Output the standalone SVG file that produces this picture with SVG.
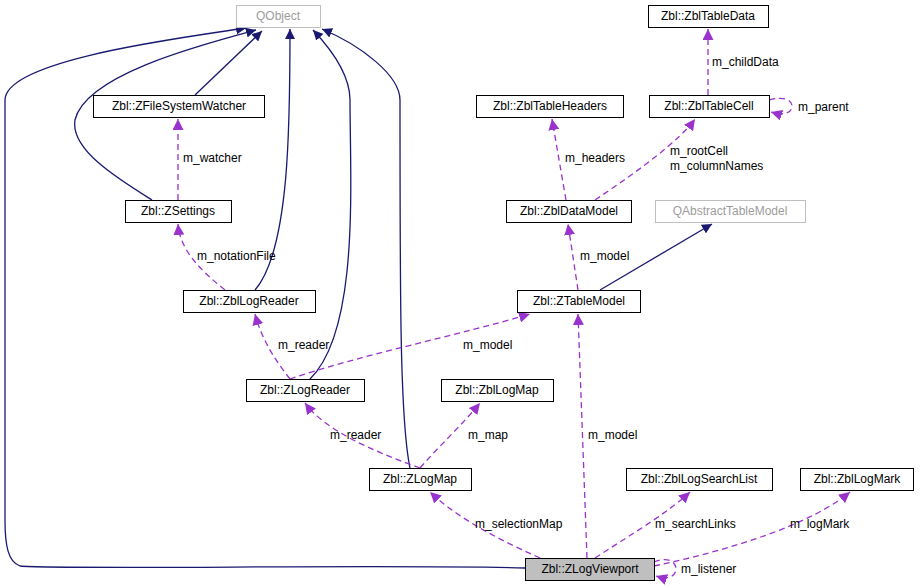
<svg xmlns="http://www.w3.org/2000/svg" width="922" height="588" viewBox="0 0 922 588">
<style>
.n rect{fill:#fff;stroke:#000;stroke-width:1}
.g rect{fill:#fff;stroke:#bfbfbf}
.n text,.g text,.l{font-family:"Liberation Sans",Arial,sans-serif;font-size:12px}
.n text,.g text{text-anchor:middle}
.g text{fill:#9c9c9c}
.i{fill:none;stroke:#191970;stroke-width:1.3}
.u{fill:none;stroke:#9a32cd;stroke-width:1.3;stroke-dasharray:6,4}
</style>
<defs>
<marker id="ai" viewBox="0 0 10 10" refX="10" refY="5" markerWidth="10" markerHeight="10" markerUnits="userSpaceOnUse" orient="auto"><path d="M0,0L10,5L0,10z" fill="#191970"/></marker>
<marker id="au" viewBox="0 0 10 10" refX="10" refY="5" markerWidth="11" markerHeight="11" markerUnits="userSpaceOnUse" orient="auto"><path d="M0,0L10,5L0,10z" fill="#9a32cd"/></marker>
</defs>
<rect width="922" height="588" fill="#fff"/>
<g id="edges">
<path class="i" marker-end="url(#ai)" d="M525,568 C400,564 60,570 20,566 C8,562 5,545 5,520 L5,100 C5,60 180,38 246,28"/>
<path class="i" marker-end="url(#ai)" d="M195,95 L262,31"/>
<path class="i" marker-end="url(#ai)" d="M152,200 C120,180 70,150 75,120 C85,75 200,45 256,30"/>
<path class="i" marker-end="url(#ai)" d="M255,290 C290,250 290,120 290,29"/>
<path class="i" marker-end="url(#ai)" d="M310,379 C360,330 350,180 350,100 C350,75 330,48 313,30"/>
<path class="i" marker-end="url(#ai)" d="M410,468 C400,420 400,300 400,100 C400,75 360,45 322,29"/>
<path class="i" marker-end="url(#ai)" d="M600,290 L712,224"/>
<path class="u" marker-end="url(#au)" d="M178,200 L178,119"/>
<path class="u" marker-end="url(#au)" d="M225,290 C200,270 180,250 178,224"/>
<path class="u" marker-end="url(#au)" d="M290,379 C275,360 262,340 255,314"/>
<path class="u" marker-end="url(#au)" d="M290,379 C360,355 460,335 530,314"/>
<path class="u" marker-end="url(#au)" d="M420,468 C370,450 325,430 305,403"/>
<path class="u" marker-end="url(#au)" d="M420,468 C440,445 462,425 480,403"/>
<path class="u" marker-end="url(#au)" d="M540,558 C500,540 460,520 430,492"/>
<path class="u" marker-end="url(#au)" d="M587,558 L578,314"/>
<path class="u" marker-end="url(#au)" d="M595,558 C630,535 665,515 690,492"/>
<path class="u" marker-end="url(#au)" d="M654,566 C730,550 810,525 850,492"/>
<path class="u" marker-end="url(#au)" d="M654,562 C668,556 676,562 676,569 C676,576 668,580 656,576"/>
<path class="u" marker-end="url(#au)" d="M578,290 L568,224"/>
<path class="u" marker-end="url(#au)" d="M566,200 L552,119"/>
<path class="u" marker-end="url(#au)" d="M595,200 C640,170 680,140 695,119"/>
<path class="u" marker-end="url(#au)" d="M708,95 L708,29"/>
<path class="u" marker-end="url(#au)" d="M769,100 C784,96 792,100 792,106 C792,113 784,116 771,112"/>
<text class="l" x="183" y="162">m_watcher</text>
<text class="l" x="197" y="260">m_notationFile</text>
<text class="l" x="278" y="349">m_reader</text>
<text class="l" x="463" y="349">m_model</text>
<text class="l" x="330" y="439">m_reader</text>
<text class="l" x="468" y="439">m_map</text>
<text class="l" x="475" y="528">m_selectionMap</text>
<text class="l" x="588" y="439">m_model</text>
<text class="l" x="655" y="528">m_searchLinks</text>
<text class="l" x="790" y="528">m_logMark</text>
<text class="l" x="681" y="573">m_listener</text>
<text class="l" x="580" y="260">m_model</text>
<text class="l" x="565" y="162">m_headers</text>
<text class="l" x="670" y="155">m_rootCell</text>
<text class="l" x="670" y="170">m_columnNames</text>
<text class="l" x="712" y="66">m_childData</text>
<text class="l" x="798" y="111">m_parent</text>
</g>
<g id="QObject" class="g"><rect x="236.5" y="5.5" width="84" height="22"/><text x="278" y="20">QObject</text></g>
<g id="ZblTableData" class="n"><rect x="648.5" y="5.5" width="120" height="22"/><text x="708" y="20">Zbl::ZblTableData</text></g>
<g id="ZFileSystemWatcher" class="n"><rect x="93.5" y="95.5" width="171" height="22"/><text x="179" y="110">Zbl::ZFileSystemWatcher</text></g>
<g id="ZblTableHeaders" class="n"><rect x="476.5" y="95.5" width="147" height="22"/><text x="550" y="110">Zbl::ZblTableHeaders</text></g>
<g id="ZblTableCell" class="n"><rect x="649.5" y="95.5" width="120" height="22"/><text x="709" y="110">Zbl::ZblTableCell</text></g>
<g id="ZSettings" class="n"><rect x="125.5" y="200.5" width="106" height="22"/><text x="178" y="215">Zbl::ZSettings</text></g>
<g id="ZblDataModel" class="n"><rect x="506.5" y="200.5" width="125" height="22"/><text x="569" y="215">Zbl::ZblDataModel</text></g>
<g id="QAbstractTableModel" class="g"><rect x="655.5" y="200.5" width="150" height="22"/><text x="730" y="215">QAbstractTableModel</text></g>
<g id="ZblLogReader" class="n"><rect x="183.5" y="290.5" width="132" height="22"/><text x="249" y="305">Zbl::ZblLogReader</text></g>
<g id="ZTableModel" class="n"><rect x="517.5" y="290.5" width="123" height="22"/><text x="579" y="305">Zbl::ZTableModel</text></g>
<g id="ZLogReader" class="n"><rect x="246.5" y="379.5" width="118" height="22"/><text x="305" y="394">Zbl::ZLogReader</text></g>
<g id="ZblLogMap" class="n"><rect x="441.5" y="379.5" width="112" height="22"/><text x="497" y="394">Zbl::ZblLogMap</text></g>
<g id="ZLogMap" class="n"><rect x="369.5" y="468.5" width="102" height="22"/><text x="420" y="483">Zbl::ZLogMap</text></g>
<g id="ZblLogSearchList" class="n"><rect x="626.5" y="468.5" width="146" height="22"/><text x="699" y="483">Zbl::ZblLogSearchList</text></g>
<g id="ZblLogMark" class="n"><rect x="800.5" y="468.5" width="113" height="22"/><text x="857" y="483">Zbl::ZblLogMark</text></g>
<g id="ZLogViewport" class="n"><rect x="525.5" y="558.5" width="129" height="22" style="fill:#bfbfbf"/><text x="590" y="573">Zbl::ZLogViewport</text></g>
</svg>
